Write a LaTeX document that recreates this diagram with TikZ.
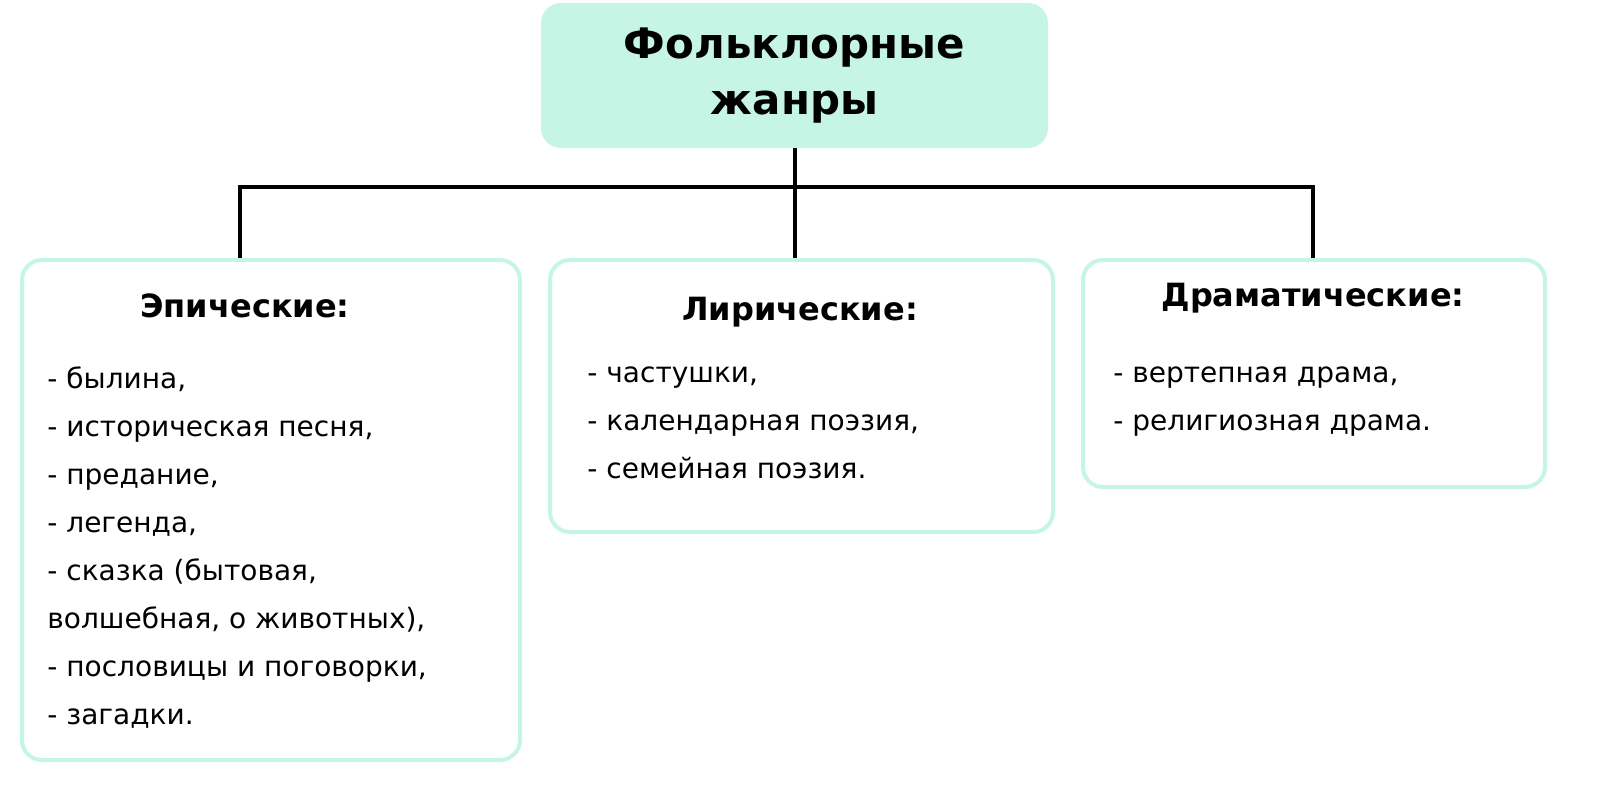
\documentclass[tikz,border=0pt]{standalone}
\usepackage{fontspec}
\setmainfont{DejaVu Sans}
\definecolor{mint}{HTML}{C6F5E6}
\tikzset{
  frame/.style={draw=mint, line width=2pt, rounded corners=10pt, inner sep=0pt},
  head/.style={font=\fontsize{16}{20}\selectfont\bfseries},
  items/.style={anchor=north west, align=left, inner sep=0pt, font=\fontsize{14}{24}\selectfont},
  link/.style={draw=black, line width=2pt}
}
\begin{document}
\begin{tikzpicture}[x=0.5pt,y=-0.5pt]
  \useasboundingbox (0,0) rectangle (1600,797);
  %Top box:
  \node[fill=mint, rounded corners=10pt, minimum width=253.5pt, minimum height=72.5pt, align=center,
        font=\fontsize{21}{28}\selectfont\bfseries] (folk) at (794.5,75.5) {Фольклорные\\жанры};
  %Group boxes:
  \node[frame, minimum width=249pt, minimum height=250pt] (epic) at (271,510) {};
  \node[frame, minimum width=251.5pt, minimum height=136pt] (lyric) at (801.5,396) {};
  \node[frame, minimum width=231pt, minimum height=113.5pt] (drama) at (1314,373.5) {};
  %Headings:
  \node[head] (epich) at (245,306) {Эпические:};
  \node[head] (lyrich) at (800,312) {Лирические:};
  \node[head] (dramah) at (1313,298) {Драматические:};
  %Lists:
  \node[items] (epicl) at (47,366) {- былина,\\- историческая песня,\\- предание,\\- легенда,\\- сказка (бытовая,\\волшебная, о животных),\\- пословицы и поговорки,\\- загадки.};
  \node[items] (lyricl) at (587,366) {- частушки,\\- календарная поэзия,\\- семейная поэзия.};
  \node[items] (dramal) at (1113,366) {- вертепная драма,\\- религиозная драма.};
  %Connectors:
  \coordinate (jl) at (240,187);
  \coordinate (jr) at (1313,187);
  \draw[link] (folk.south) -- (folk.south |- lyric.north);
  \draw[link] (jl |- epic.north) -- (jl) -- (jr) -- (jr |- drama.north);
\end{tikzpicture}
\end{document}
